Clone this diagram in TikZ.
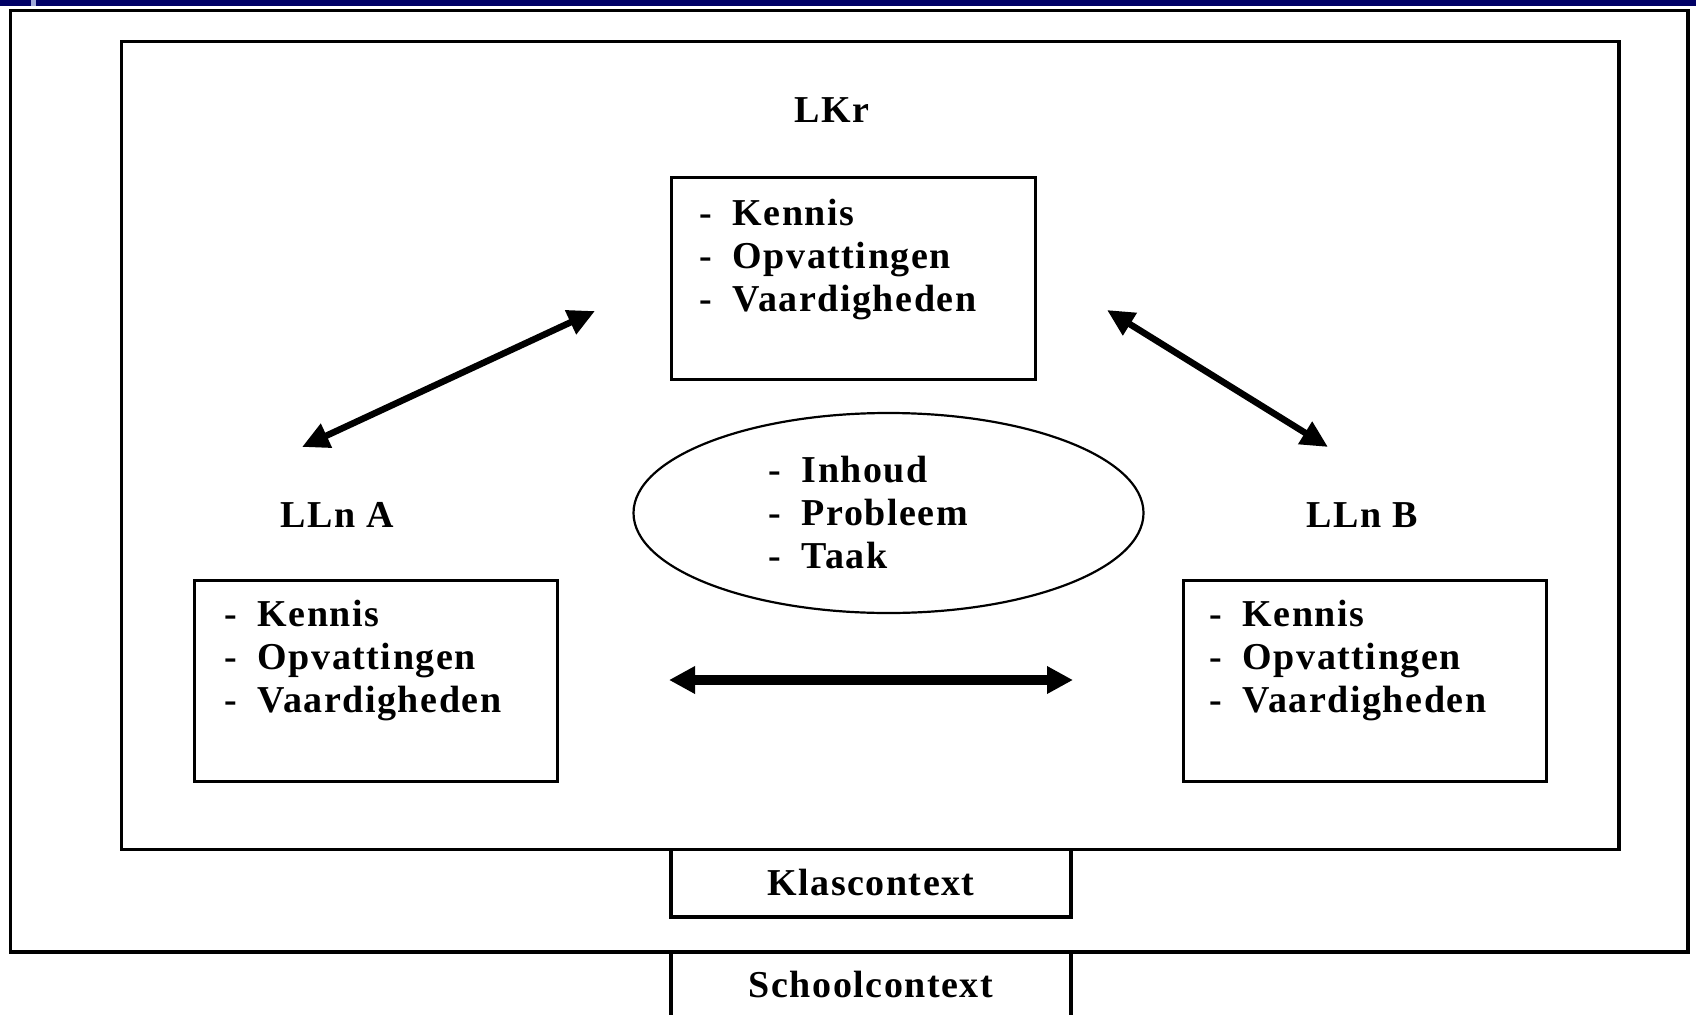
\documentclass[tikz,border=0pt]{standalone}
\usepackage{fontspec}
\setmainfont{Liberation Serif}[LetterSpace=4]
\usetikzlibrary{arrows.meta,shapes.geometric}
\definecolor{navybar}{HTML}{000066}
\definecolor{lightseg}{HTML}{9FA8D8}
\newcommand\mylist[3]{\begin{tabular}[t]{@{}l@{\hspace{21pt}}l@{}}-&#1\\-&#2\\-&#3\end{tabular}}
\begin{document}
\begin{tikzpicture}[x=1pt,y=-1pt,
  txt/.style={font=\fontsize{38}{43}\selectfont\bfseries, inner sep=0pt},
  frame/.style={draw=black, line width=3.5pt, rectangle, inner sep=0pt},
  box/.style={draw=black, line width=3pt, rectangle, inner sep=0pt},
  oval/.style={draw=black, line width=2.2pt, ellipse, inner sep=0pt},
  dbl/.style={{Triangle[length=27pt,width=25pt]}-{Triangle[length=27pt,width=25pt]}, line width=6.5pt},
  dblthick/.style={{Triangle[length=26pt,width=26pt]}-{Triangle[length=26pt,width=26pt]}, line width=10pt},
]
\useasboundingbox (0,0) rectangle (1696,1014);
\clip (0,0) rectangle (1696,1014);
\fill[white] (0,0) rectangle (1696,1014);
\fill[navybar] (0,0) rectangle (1696,6);
\fill[lightseg] (31,0) rectangle (36,6);

% frames
\node[frame, minimum width=1677.5pt, minimum height=941.5pt] (outer) at (849.25,481.25) {};
\node[frame, minimum width=1497.5pt, minimum height=808pt] (inner) at (870.25,445.5) {};
\node[box, line width=3.5pt, fill=white, minimum width=400pt, minimum height=67.5pt] (klas) at (871,883.25) {};
\node[box, line width=3.5pt, fill=white, minimum width=400pt, minimum height=78pt] (school) at (871,991) {};
\node[txt, anchor=base] (klastxt) at (871,895) {Klascontext};
\node[txt, anchor=base] (schooltxt) at (871,997) {Schoolcontext};

% boxes
\node[box, minimum width=364pt, minimum height=202pt] (lkrbox) at (853,278) {};
\node[box, minimum width=363pt, minimum height=201pt] (abox) at (375.5,680.5) {};
\node[box, minimum width=363pt, minimum height=201pt] (bbox) at (1364.5,680.5) {};
\node[oval, minimum width=510pt, minimum height=200pt] (ell) at (888.5,513) {};

% labels
\node[txt, anchor=base] (lkr) at (832,122) {LKr};
\node[txt, anchor=base] (llna) at (337,527) {LLn A};
\node[txt, anchor=base] (llnb) at (1362,527) {LLn B};

% lists
\node[txt, anchor=base west] (lkrlist) at (699,225) {\mylist{Kennis}{Opvattingen}{Vaardigheden}};
\node[txt, anchor=base west] (alist) at (224,626) {\mylist{Kennis}{Opvattingen}{Vaardigheden}};
\node[txt, anchor=base west] (blist) at (1209,626) {\mylist{Kennis}{Opvattingen}{Vaardigheden}};
\node[txt, anchor=base west] (elist) at (768,482) {\mylist{Inhoud}{Probleem}{Taak}};

% arrows
\coordinate (a1) at (302,447);
\coordinate (k1) at (595,311);
\coordinate (k2) at (1107,310);
\coordinate (b1) at (1328,447);
\coordinate (a2) at (669,680);
\coordinate (b2) at (1073,680);
\draw[dbl] (a1) -- (k1);
\draw[dbl] (k2) -- (b1);
\draw[dblthick] (a2) -- (b2);
\end{tikzpicture}
\end{document}
